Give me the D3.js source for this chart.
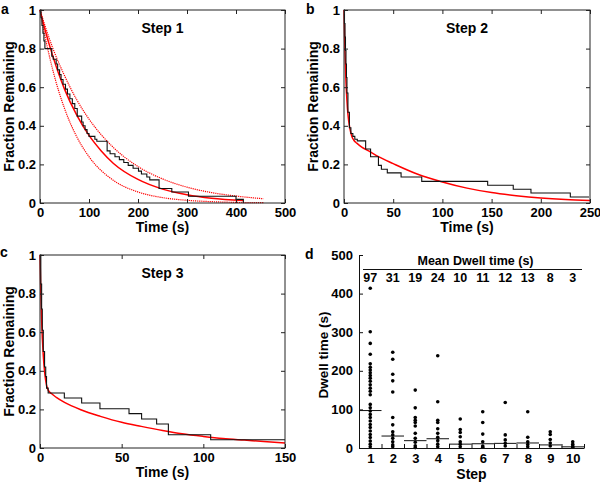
<!DOCTYPE html>
<html><head><meta charset="utf-8">
<script src="https://cdn.jsdelivr.net/npm/d3@7"></script>
<style>
body{margin:0;background:#fff}
svg text{font-family:"Liberation Sans",Arial,Helvetica,sans-serif;font-weight:bold;fill:#000}
</style>
</head><body>
<svg id="chart" width="600" height="483"></svg>
<script>
// ---------- DATA ----------
// Panel a: Step 1 survival (staircase) and exponential fit with bounds
const step1T = [0, 2, 4, 6, 8, 10, 24, 27, 33, 36, 40, 43, 47, 52, 56, 61, 66, 71, 76, 85, 88, 92, 96, 100, 112, 116, 137, 143, 153, 162, 171, 180, 190, 201, 207, 218, 224, 243, 269, 303, 400, 415];
const step1F = [1, 0.96, 0.92, 0.88, 0.84, 0.80, 0.76, 0.745, 0.72, 0.69, 0.665, 0.64, 0.615, 0.59, 0.565, 0.54, 0.515, 0.49, 0.45, 0.42, 0.40, 0.38, 0.36, 0.345, 0.33, 0.32, 0.27, 0.255, 0.24, 0.225, 0.21, 0.195, 0.18, 0.165, 0.15, 0.135, 0.12, 0.075, 0.057, 0.035, 0.019, 0];
const fit1T  = [0, 10, 25, 50, 75, 100, 125, 150, 200, 250, 300, 350, 415];
const fit1F  = [1, 0.90, 0.77, 0.59, 0.455, 0.35, 0.27, 0.205, 0.122, 0.072, 0.043, 0.025, 0.013];
const bnd1T  = [0, 10, 25, 50, 75, 100, 150, 200, 250, 300, 350, 400, 456];
const bnd1Hi = [1, 0.92, 0.81, 0.66, 0.535, 0.435, 0.287, 0.189, 0.125, 0.082, 0.054, 0.036, 0.022];
const bnd1Lo = [1, 0.867, 0.70, 0.49, 0.343, 0.24, 0.117, 0.057, 0.028, 0.014, 0.007, 0.003, 0.0015];

// Panel b: Step 2
const step2T = [0, 0.5, 1, 1.5, 2, 2.5, 3, 4, 5.5, 7, 9, 11, 13.5, 22, 27, 35, 38, 44, 58, 79, 146, 172, 190, 230, 249];
const step2F = [1, 0.93, 0.86, 0.79, 0.72, 0.65, 0.57, 0.47, 0.39, 0.36, 0.345, 0.33, 0.322, 0.28, 0.24, 0.195, 0.175, 0.156, 0.135, 0.112, 0.092, 0.071, 0.052, 0.031, 0.031];
const fit2T  = [0, 0.5, 1, 2, 3, 4, 6, 8, 10, 13, 18, 25, 35, 50, 75, 100, 125, 150, 175, 200, 225, 250];
const fit2F  = [1, 0.88, 0.78, 0.63, 0.53, 0.46, 0.385, 0.345, 0.325, 0.31, 0.29, 0.27, 0.24, 0.204, 0.149, 0.109, 0.077, 0.054, 0.038, 0.026, 0.018, 0.013];

// Panel c: Step 3
const step3T = [0, 0.5, 1, 1.4, 2, 2.8, 3.5, 4, 5, 14.9, 25.5, 36.7, 54.5, 62.2, 71.4, 78.6, 104.5, 150];
const step3F = [1, 0.85, 0.72, 0.61, 0.5, 0.42, 0.37, 0.31, 0.285, 0.259, 0.233, 0.203, 0.178, 0.15, 0.124, 0.069, 0.043, 0.043];
const fit3T  = [0, 0.5, 1, 2, 3, 4, 5, 7, 10, 15, 25, 37, 50, 62, 75, 87, 100, 112, 125, 137, 150];
const fit3F  = [1, 0.8, 0.66, 0.48, 0.38, 0.325, 0.30, 0.282, 0.262, 0.236, 0.198, 0.164, 0.133, 0.112, 0.091, 0.074, 0.060, 0.049, 0.041, 0.034, 0.026];

// Panel d: dwell times per step and means
const steps = [1, 2, 3, 4, 5, 6, 7, 8, 9, 10];
const meanDwell = [97, 31, 19, 24, 10, 11, 12, 13, 8, 3];
const dwellTimes = [
  [414, 301, 271, 243, 218, 209, 202, 195, 188, 181, 173, 164, 155, 147, 138, 113, 104, 96, 87, 79, 70, 61, 53, 44, 35, 27, 18, 10, 3],
  [248, 230, 191, 174, 145, 79, 60, 42, 34, 25, 16, 8, 3],
  [150, 104, 79, 72, 66, 57, 38, 25, 15, 6, 1],
  [239, 120, 72, 66, 50, 38, 28, 19, 10, 3],
  [75, 48, 40, 29, 16, 10, 3],
  [94, 66, 36, 16, 5, 2],
  [118, 34, 21, 12, 5],
  [94, 28, 16, 9, 3],
  [42, 35, 22, 13, 5],
  [16, 10, 5, 2]
];
const fracTicks = [0, 0.2, 0.4, 0.6, 0.8, 1];
const dwellTicks = [0, 100, 200, 300, 400, 500];

// ---------- DRAW ----------
const svg = d3.select("#chart");
const RED = "#ff0000";
const fracFmt = d => (d === 0 || d === 1) ? String(d) : d.toFixed(1);

function survivalPanel(cfg) {
  const x = d3.scaleLinear().domain([0, cfg.xMax]).range([cfg.left, cfg.right]);
  const y = d3.scaleLinear().domain([0, 1]).range([cfg.bottom, cfg.top]);
  const g = svg.append("g");
  const line = d3.line().x(d => x(d[0])).y(d => y(d[1]));

  (cfg.bounds || []).forEach(b => {
    g.append("path").datum(d3.zip(b[0], b[1]))
      .attr("d", line.curve(d3.curveMonotoneX))
      .attr("fill", "none").attr("stroke", RED).attr("stroke-width", 1.2)
      .attr("stroke-dasharray", "1.2,0.9");
  });
  g.append("path").datum(d3.zip(cfg.fitT, cfg.fitF))
    .attr("d", line.curve(d3.curveMonotoneX))
    .attr("fill", "none").attr("stroke", RED).attr("stroke-width", 1.5);
  g.append("path").datum(d3.zip(cfg.stepT, cfg.stepF))
    .attr("d", line.curve(d3.curveStepAfter))
    .attr("fill", "none").attr("stroke", "#111").attr("stroke-width", 1.1);

  // axes with inward ticks
  const ax = (a, sel) => sel.call(a).call(s => s.select(".domain").remove())
    .call(s => s.selectAll(".tick line").attr("stroke", "#222"))
    .call(s => s.selectAll("text").attr("font-size", 13).attr("font-family", null));
  ax(d3.axisBottom(x).tickValues(cfg.xTicks).tickSize(-4).tickPadding(5).tickFormat(d3.format("d")),
     g.append("g").attr("transform", `translate(0,${cfg.bottom})`));
  ax(d3.axisTop(x).tickValues(cfg.xTicks).tickSize(-4).tickFormat(""),
     g.append("g").attr("transform", `translate(0,${cfg.top})`));
  ax(d3.axisLeft(y).tickValues(fracTicks).tickSize(-4).tickPadding(4).tickFormat(fracFmt),
     g.append("g").attr("transform", `translate(${cfg.left},0)`));
  ax(d3.axisRight(y).tickValues(fracTicks).tickSize(-4).tickFormat(""),
     g.append("g").attr("transform", `translate(${cfg.right},0)`));

  g.append("rect").attr("x", cfg.left).attr("y", cfg.top)
    .attr("width", cfg.right - cfg.left).attr("height", cfg.bottom - cfg.top)
    .attr("fill", "none").attr("stroke", "#222").attr("stroke-width", 1);

  g.append("text").attr("x", (cfg.left + cfg.right) / 2).attr("y", cfg.top + 23)
    .attr("text-anchor", "middle").attr("font-size", 14).text(cfg.title);
  g.append("text").attr("x", (cfg.left + cfg.right) / 2).attr("y", cfg.bottom + 29)
    .attr("text-anchor", "middle").attr("font-size", 14).text("Time (s)");
  g.append("text").attr("transform", `translate(${cfg.left - 26},${(cfg.top + cfg.bottom) / 2}) rotate(-90)`)
    .attr("text-anchor", "middle").attr("font-size", 14).text("Fraction Remaining");
  g.append("text").attr("x", cfg.letterX).attr("y", cfg.letterY)
    .attr("font-size", 14).text(cfg.letter);
}

survivalPanel({left: 40, top: 10, right: 285, bottom: 203, xMax: 500, xTicks: [0, 100, 200, 300, 400, 500],
  title: "Step 1", letter: "a", letterX: 1, letterY: 14,
  stepT: step1T, stepF: step1F, fitT: fit1T, fitF: fit1F,
  bounds: [[bnd1T, bnd1Hi], [bnd1T, bnd1Lo]]});
survivalPanel({left: 344, top: 10, right: 590, bottom: 203, xMax: 250, xTicks: [0, 50, 100, 150, 200, 250],
  title: "Step 2", letter: "b", letterX: 306, letterY: 14,
  stepT: step2T, stepF: step2F, fitT: fit2T, fitF: fit2F});
survivalPanel({left: 40, top: 255, right: 285, bottom: 448, xMax: 150, xTicks: [0, 50, 100, 150],
  title: "Step 3", letter: "c", letterX: 0, letterY: 257,
  stepT: step3T, stepF: step3F, fitT: fit3T, fitF: fit3F});

// Panel d
(function () {
  const left = 359, right = 584, top = 255, bottom = 448;
  const x = d3.scaleLinear().domain([0.5, 10.5]).range([left, right]);
  const y = d3.scaleLinear().domain([0, 500]).range([bottom, top]);
  const g = svg.append("g");

  // mean segments
  g.selectAll("line.mean").data(steps).join("line")
    .attr("x1", s => x(s - 0.5)).attr("x2", s => x(s + 0.5))
    .attr("y1", (s, i) => y(meanDwell[i])).attr("y2", (s, i) => y(meanDwell[i]))
    .attr("stroke", "#111").attr("stroke-width", 1);

  // dots
  steps.forEach((s, i) => {
    g.selectAll(null).data(dwellTimes[i]).join("circle")
      .attr("cx", x(s)).attr("cy", v => y(v)).attr("r", 1.8).attr("fill", "#000");
  });

  // left axis
  const ya = g.append("g").attr("transform", `translate(${left},0)`)
    .call(d3.axisLeft(y).tickValues(dwellTicks).tickSize(-4).tickSizeOuter(0).tickPadding(6));
  ya.select(".domain").attr("stroke", "#111");
  ya.selectAll(".tick line").attr("stroke", "#111");
  ya.selectAll("text").attr("font-size", 13).attr("font-family", null);

  // bottom axis: boundary ticks + labels
  const xb = g.append("g").attr("transform", `translate(0,${bottom})`)
    .call(d3.axisBottom(x).tickValues(d3.range(0.5, 11, 1)).tickSize(-4).tickSizeOuter(0).tickFormat(""));
  xb.select(".domain").attr("stroke", "#111");
  xb.selectAll(".tick line").attr("stroke", "#111");
  const xl = g.append("g").attr("transform", `translate(0,${bottom})`)
    .call(d3.axisBottom(x).tickValues(steps).tickSize(0).tickPadding(6));
  xl.select(".domain").remove();
  xl.selectAll("text").attr("font-size", 13).attr("font-family", null);

  // mean dwell header
  g.append("text").attr("x", 475.5).attr("y", 265).attr("text-anchor", "middle")
    .attr("font-size", 12.5).text("Mean Dwell time (s)");
  g.append("line").attr("x1", 363).attr("x2", 582).attr("y1", 269.5).attr("y2", 269.5)
    .attr("stroke", "#111").attr("stroke-width", 1);
  g.selectAll("text.mv").data(steps).join("text").attr("class", "mv")
    .attr("x", s => x(s)).attr("y", 282).attr("text-anchor", "middle")
    .attr("font-size", 12.5).text((s, i) => meanDwell[i]);

  g.append("text").attr("x", (left + right) / 2).attr("y", 479).attr("text-anchor", "middle")
    .attr("font-size", 14).text("Step");
  g.append("text").attr("transform", `translate(328,355) rotate(-90)`)
    .attr("text-anchor", "middle").attr("font-size", 13.5).text("Dwell time (s)");
  g.append("text").attr("x", 305).attr("y", 259).attr("font-size", 14).text("d");
})();
</script>
</body></html>
